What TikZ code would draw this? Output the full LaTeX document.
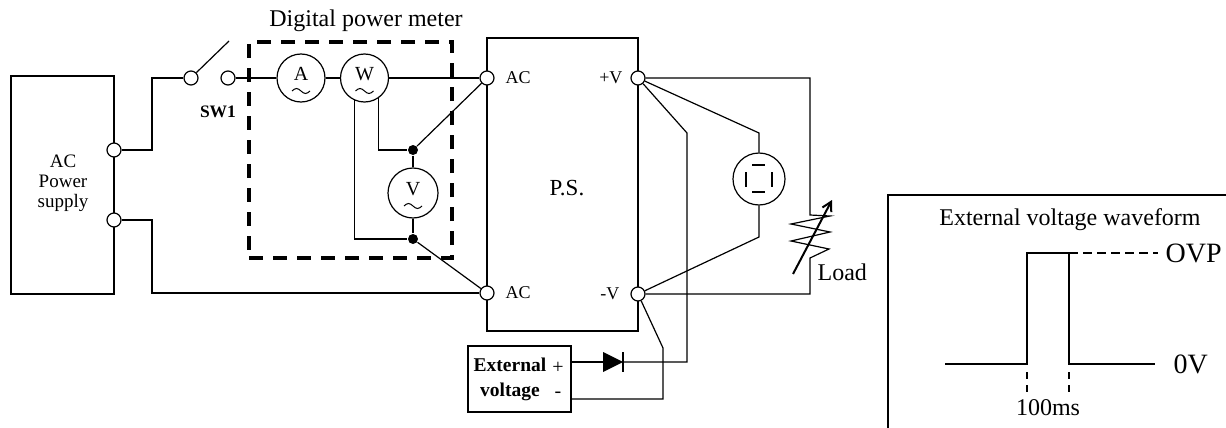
\documentclass[tikz,border=0pt]{standalone}
\usepackage{fontspec}
\setmainfont{Liberation Serif}
\usetikzlibrary{arrows.meta}

\tikzset{
  term/.style={circle,draw,fill=white,minimum size=14pt,inner sep=0pt},
  meter/.style={circle,draw,fill=white,minimum size=48pt,inner sep=0pt},
  jdot/.style={circle,fill,minimum size=10pt,inner sep=0pt},
  txt/.style={inner sep=0pt,font=\fontsize{#1}{#1}\selectfont},
  btxt/.style={inner sep=0pt,font=\bfseries\fontsize{#1}{#1}\selectfont},
  dmbox/.style={draw,line width=4.5pt,dash pattern=on 14pt off 10pt,inner sep=0pt},
  box/.style={draw,inner sep=0pt},
}
% letter and ac mark inside a meter
\newcommand{\meterlbl}[2]{%
  \node[txt=20] (#1lbl) at ([yshift=4pt]#1.center) {#2};
  \draw[line width=1pt] ([shift={(-9,13)}]#1.center) sin ++(4.5,-2.5) cos ++(4.5,2.5)
    sin ++(4.5,2.5) cos ++(4.5,-2.5);}

\begin{document}
\begin{tikzpicture}[x=1pt,y=-1pt,line width=1.2pt]
  \useasboundingbox (0,0) rectangle (1226,428);

  % AC source and switch
  \node[box,minimum width=103pt,minimum height=218pt] (src) at (62.5,185) {};
  \node[txt=19,font=\fontsize{19}{20}\selectfont,align=center] (srclbl) at (63,183) {AC\\Power\\supply};
  \node[term] (t1) at (114,150) {};
  \node[term] (t2) at (114,220) {};
  \node[term] (s1) at (191,78) {};
  \node[term] (s2) at (228,78) {};
  \coordinate (stip) at (229,41);
  \node[btxt=17.5] (swlbl) at (218,112) {SW1};
  \draw (s1.45) -- (stip);
  \draw (t1) -- (152,150) |- (s1);

  % digital power meter
  \node[dmbox,minimum width=203pt,minimum height=216pt] (dpm) at (350.5,150) {};
  \node[txt=24] (dpmlbl) at (366,21) {Digital power meter};
  \node[meter] (A) at (301,78) {};
  \node[meter] (W) at (364.5,78) {};
  \node[meter,minimum size=50pt] (V) at (413,193) {};
  \meterlbl{A}{A}
  \meterlbl{W}{W}
  \meterlbl{V}{V}
  \node[jdot] (d1) at (413,150) {};
  \node[jdot] (d2) at (413,239) {};

  % power supply under test
  \node[box,minimum width=151pt,minimum height=293pt] (ps) at (562.5,184.5) {};
  \node[txt=23] (pslbl) at (567,188) {P.S.};
  \node[term] (ac1) at (487,78) {};
  \node[term] (ac2) at (487,293) {};
  \node[term] (pv) at (638,78) {};
  \node[term] (nv) at (638,294) {};
  \node[txt=18,anchor=west] (ac1lbl) at (505,78) {AC};
  \node[txt=18,anchor=west] (ac2lbl) at (505,293) {AC};
  \node[txt=18,anchor=east] (pvlbl) at (623,78) {+V};
  \node[txt=18,anchor=east] (nvlbl) at (620,294) {-V};

  \draw (s2) -- (A);
  \draw (A) -- (W);
  \draw (W) -- (ac1);
  \draw (W.-115) |- (d2);
  \draw (W.-56) |- (d1);
  \draw (d1) -- (V);
  \draw (V) -- (d2);
  \draw (d1) -- (ac1);
  \draw (d2) -- (ac2);
  \draw (t2) -- (152,220) |- (ac2);

  % load
  \coordinate (rtop) at (810,215);
  \coordinate (rbot) at (810,258);
  \draw (pv) -| (rtop) -- ++(20,1) -- ++(-39,8) -- ++(39,8) -- ++(-39,9) -- ++(38,8) -- (rbot) |- (nv);
  \coordinate (arra) at (793,274);
  \coordinate (arrb) at (832,200);
  \draw[line width=2pt,-{Straight Barb[length=9pt,width=10pt]}] (arra) -- (arrb);
  \node[txt=24,anchor=west] (loadlbl) at (817,272) {Load};

  % display meter
  \node[meter,minimum size=52pt] (dvm) at (759,179) {};
  \draw ([shift={(-7,-14)}]dvm.center) -- ++(13,0);
  \draw ([shift={(-7,13)}]dvm.center) -- ++(13,0);
  \draw ([shift={(-13,-7)}]dvm.center) -- ++(0,15);
  \draw ([shift={(13,-7)}]dvm.center) -- ++(0,15);
  \draw (pv) -- (759,133) -- (dvm);
  \draw (dvm) -- (759,237) -- (nv);

  % external voltage
  \node[box,line width=2pt,minimum width=103pt,minimum height=66pt] (ext) at (519.5,379) {};
  \node[btxt=19.5,font=\bfseries\fontsize{19.5}{25}\selectfont,align=center] (extlbl) at (510,379) {External\\voltage};
  \node[txt=20] (plus) at (558,368) {+};
  \node[txt=20] (minus) at (558,395) {-};
  \coordinate (Da) at (603,362);
  \coordinate (Dk) at (623,362);
  \fill (603,352) -- (Dk) -- (603,372) -- cycle;
  \draw[line width=1.6pt] (623,352) -- (623,372);
  \draw ([yshift=17pt]ext.east) -- (Da);
  \draw (Dk) -- (687,362) -- (687,133) -- (pv);
  \draw (nv) -- (663,348) |- ([yshift=-20pt]ext.east);

  % waveform
  \draw (888,428) -- (888,195) -- (1226,195);
  \node[txt=24] (wavelbl) at (1070,220) {External voltage waveform};
  \draw (945,364) -- (1027,364) -- (1027,253) -- (1069,253) -- (1069,364) -- (1155,364);
  \draw[dash pattern=on 9pt off 5pt] (1069,253) -- (1158,253);
  \draw[dash pattern=on 7pt off 6pt] (1027,372) -- (1027,392);
  \draw[dash pattern=on 7pt off 6pt] (1069,372) -- (1069,392);
  \node[txt=28,anchor=west] (ovp) at (1165,253) {OVP};
  \node[txt=28,anchor=west] (zv) at (1173,364) {0V};
  \node[txt=24] (ms) at (1048,408) {100ms};
\end{tikzpicture}
\end{document}
